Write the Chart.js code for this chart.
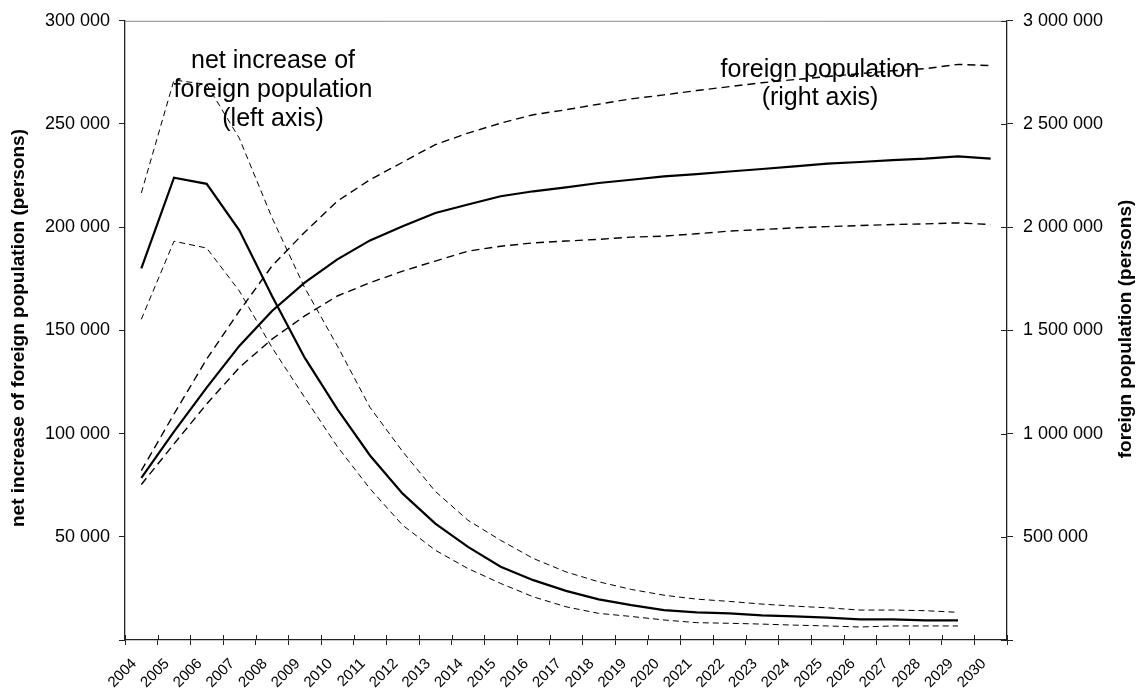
<!DOCTYPE html>
<html>
<head>
<meta charset="utf-8">
<script src="https://cdn.jsdelivr.net/npm/chart.js@4.4.0/dist/chart.umd.min.js"></script>
<style>
  body { margin: 0; background: #fff; }
</style>
</head>
<body>
<canvas id="grafica" width="1142" height="693"></canvas>
<script>
// años (categorías)
const years = ['2004', '2005', '2006', '2007', '2008', '2009', '2010', '2011', '2012', '2013',
  '2014', '2015', '2016', '2017', '2018', '2019', '2020', '2021', '2022', '2023',
  '2024', '2025', '2026', '2027', '2028', '2029', '2030']

// net increase of foreign population (left axis), 2004-2029
const netMid = [180000, 224000, 221000, 198500, 166700, 136800, 111900, 89400, 70900, 56400,
  45100, 35500, 29000, 23800, 19700, 16900, 14500, 13400, 12900, 11900,
  11400, 10800, 10000, 10000, 9500, 9500]
const netHigh = [216600, 271300, 269200, 243100, 204600, 170700, 142500, 112700, 91300, 72000,
  58000, 48300, 39500, 33000, 28200, 24500, 21700, 19800, 18700, 17400,
  16400, 15600, 14500, 14500, 14200, 13400]
const netLow = [155400, 193200, 189900, 169100, 141700, 117500, 93700, 73300, 55600, 43500,
  34600, 27400, 20900, 16100, 12900, 11400, 9700, 8400, 8100, 7700,
  7200, 6800, 6300, 6800, 6800, 6800]

// foreign population (right axis), 2004-2030
const popMid = [785000, 1010000, 1223000, 1425000, 1594000, 1731000, 1844000, 1936000, 2005000, 2069000,
  2110000, 2150000, 2174000, 2193000, 2214000, 2230000, 2246000, 2257000, 2270000, 2282000,
  2295000, 2308000, 2316000, 2325000, 2332000, 2343000, 2332000]
const popHigh = [821000, 1095000, 1361000, 1594000, 1812000, 1976000, 2126000, 2230000, 2315000, 2400000,
  2456000, 2504000, 2545000, 2569000, 2596000, 2622000, 2641000, 2662000, 2681000, 2700000,
  2715000, 2730000, 2744000, 2758000, 2768000, 2789000, 2783000]
const popLow = [753600, 950000, 1143500, 1320000, 1457600, 1570000, 1666700, 1731000, 1787000, 1836000,
  1884000, 1908000, 1924000, 1933000, 1941000, 1952000, 1957000, 1968000, 1981000, 1989000,
  1997000, 2003000, 2008000, 2013000, 2016000, 2021000, 2013000]

const fuente = 'Liberation Sans, Arial, sans-serif'

// separador de miles con espacio
function formato(valor) {
  if (valor === 0) return ''
  return valor.toString().replace(/\B(?=(\d{3})+(?!\d))/g, ' ')
}

function serie(data, eje, ancho, guiones) {
  return {
    data: data,
    yAxisID: eje,
    borderColor: '#000',
    borderWidth: ancho,
    borderDash: guiones,
    pointRadius: 0,
    tension: 0,
    fill: false,
  }
}

// textos, línea superior y marcas interiores
const extras = {
  id: 'extras',
  afterDraw(chart) {
    const ctx = chart.ctx
    const area = chart.chartArea
    ctx.save()
    ctx.strokeStyle = '#888'
    ctx.lineWidth = 1
    ctx.beginPath()
    ctx.moveTo(area.left, area.top + 0.5)
    ctx.lineTo(area.right, area.top + 0.5)
    ctx.stroke()

    // marcas hacia dentro (eje derecho y eje x)
    ctx.strokeStyle = '#222'
    ctx.beginPath()
    chart.scales.y1.ticks.forEach(t => {
      const py = Math.round(chart.scales.y1.getPixelForValue(t.value)) + 0.5
      ctx.moveTo(area.right, py)
      ctx.lineTo(area.right - 6, py)
    })
    const n = years.length
    for (let i = 0; i <= n; i++) {
      const px = Math.round(area.left + i * (area.right - area.left) / n) + 0.5
      ctx.moveTo(px, area.bottom)
      ctx.lineTo(px, area.bottom - 5)
    }
    ctx.stroke()

    // títulos de los ejes
    ctx.fillStyle = '#000'
    ctx.font = 'bold 19px ' + fuente
    ctx.textAlign = 'center'
    ctx.textBaseline = 'middle'
    ctx.save()
    ctx.translate(19, 328)
    ctx.rotate(-Math.PI / 2)
    ctx.fillText('net increase of foreign population (persons)', 0, 0)
    ctx.restore()
    ctx.save()
    ctx.translate(1126, 329)
    ctx.rotate(-Math.PI / 2)
    ctx.fillText('foreign population (persons)', 0, 0)
    ctx.restore()

    // etiquetas dentro de la gráfica
    ctx.font = '25px ' + fuente
    ctx.textBaseline = 'alphabetic'
    ctx.fillText('net increase of', 273, 68)
    ctx.fillText('foreign population', 273, 97)
    ctx.fillText('(left axis)', 273, 126)
    ctx.fillText('foreign population', 820, 77)
    ctx.fillText('(right axis)', 820, 105)
    ctx.restore()
  }
}

new Chart(document.getElementById('grafica'), {
  type: 'line',
  data: {
    labels: years,
    datasets: [
      serie(netHigh, 'y', 1, [6, 4]),
      serie(netLow, 'y', 1, [6, 4]),
      serie(netMid, 'y', 2.2, []),
      serie(popHigh, 'y1', 1.4, [8, 5]),
      serie(popLow, 'y1', 1.4, [8, 5]),
      serie(popMid, 'y1', 2.2, []),
    ]
  },
  options: {
    responsive: false,
    animation: false,
    layout: { padding: { top: 19, left: 0, right: 0, bottom: 0 } },
    plugins: {
      legend: { display: false },
      tooltip: { enabled: false }
    },
    scales: {
      x: {
        offset: true,
        grid: { offset: true, drawOnChartArea: false, tickLength: 5, color: '#222' },
        border: { color: '#222', width: 1.3 },
        ticks: {
          autoSkip: false, minRotation: 45, maxRotation: 45, padding: 10, labelOffset: -7,
          color: '#000', font: { family: fuente, size: 15 }
        },
        afterFit(scale) { scale.height = 53 }
      },
      y: {
        position: 'left',
        min: 0, max: 300000,
        grid: { drawOnChartArea: false, tickLength: 6, color: '#222' },
        border: { color: '#222', width: 1.3 },
        ticks: {
          stepSize: 50000, padding: 9, color: '#000',
          font: { family: fuente, size: 18 },
          callback: formato
        },
        afterFit(scale) { scale.width = 125 }
      },
      y1: {
        position: 'right',
        min: 0, max: 3000000,
        grid: { drawOnChartArea: false, tickLength: 6, color: '#222' },
        border: { color: '#222', width: 1.3 },
        ticks: {
          stepSize: 500000, padding: 10, color: '#000',
          font: { family: fuente, size: 18 },
          callback: formato
        },
        afterFit(scale) { scale.width = 135 }
      }
    }
  },
  plugins: [extras]
})
</script>
</body>
</html>
